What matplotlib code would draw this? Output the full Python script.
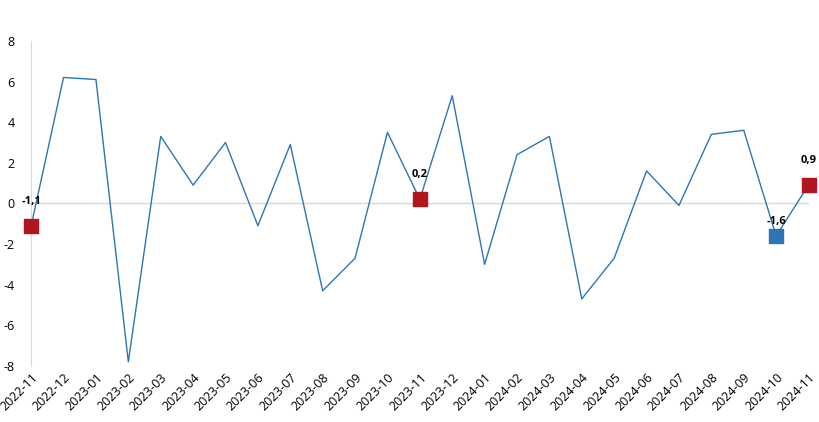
import matplotlib

matplotlib.use("Agg")

import matplotlib.pyplot as plt

plt.rcParams["font.family"] = ["Open Sans", "DejaVu Sans"]
plt.rcParams["axes.unicode_minus"] = False

months = ["2022-11", "2022-12", "2023-01", "2023-02", "2023-03", "2023-04", "2023-05", "2023-06",
          "2023-07", "2023-08", "2023-09", "2023-10", "2023-11", "2023-12", "2024-01", "2024-02",
          "2024-03", "2024-04", "2024-05", "2024-06", "2024-07", "2024-08", "2024-09", "2024-10", "2024-11"]
values = [-1.1, 6.2, 6.1, -7.8, 3.3, 0.9, 3.0, -1.1, 2.9, -4.3, -2.7, 3.5, 0.2, 5.3, -3.0, 2.4,
          3.3, -4.7, -2.7, 1.6, -0.1, 3.4, 3.6, -1.6, 0.9]
red_idx = [0, 12, 24]
blue_idx = [23]
label_text = {0: "-1,1", 12: "0,2", 23: "-1,6", 24: "0,9"}

fig = plt.figure(figsize=(8.2, 4.22), dpi=100)
ax = fig.add_axes([0.038, 0.133, 0.948, 0.77])
x = list(range(len(months)))
ax.plot(x, values, color="#2E75B6", linewidth=1.0, zorder=2)
ax.axhline(0, color="#D9D9D9", linewidth=1.0, zorder=1)
ax.scatter([x[i] for i in red_idx], [values[i] for i in red_idx], marker="s", s=110, color="#B0161E", zorder=3, clip_on=False)
ax.scatter([x[i] for i in blue_idx], [values[i] for i in blue_idx], marker="s", s=110, color="#2E75B6", zorder=3, clip_on=False)
for i, txt in label_text.items():
    dy = 1.2 if values[i] >= 0 else 0.7
    if i == 0:
        dy = 1.2
    ax.text(x[i], values[i] + dy, txt, ha="center", va="center", fontsize=8, fontweight="bold")

ax.set_ylim(-8, 8)
ax.set_xlim(0, 24)
ax.set_yticks(range(-8, 9, 2))
ax.set_xticks(x)
ax.set_xticklabels(months, rotation=45, ha="right", rotation_mode="anchor", fontsize=9)
ax.tick_params(axis="y", labelsize=9, length=0, pad=12)
ax.tick_params(axis="x", length=0)
for side in ["top", "right", "bottom"]:
    ax.spines[side].set_visible(False)
ax.spines["left"].set_color("#D9D9D9")
fig.savefig("out.png", dpi=100)
